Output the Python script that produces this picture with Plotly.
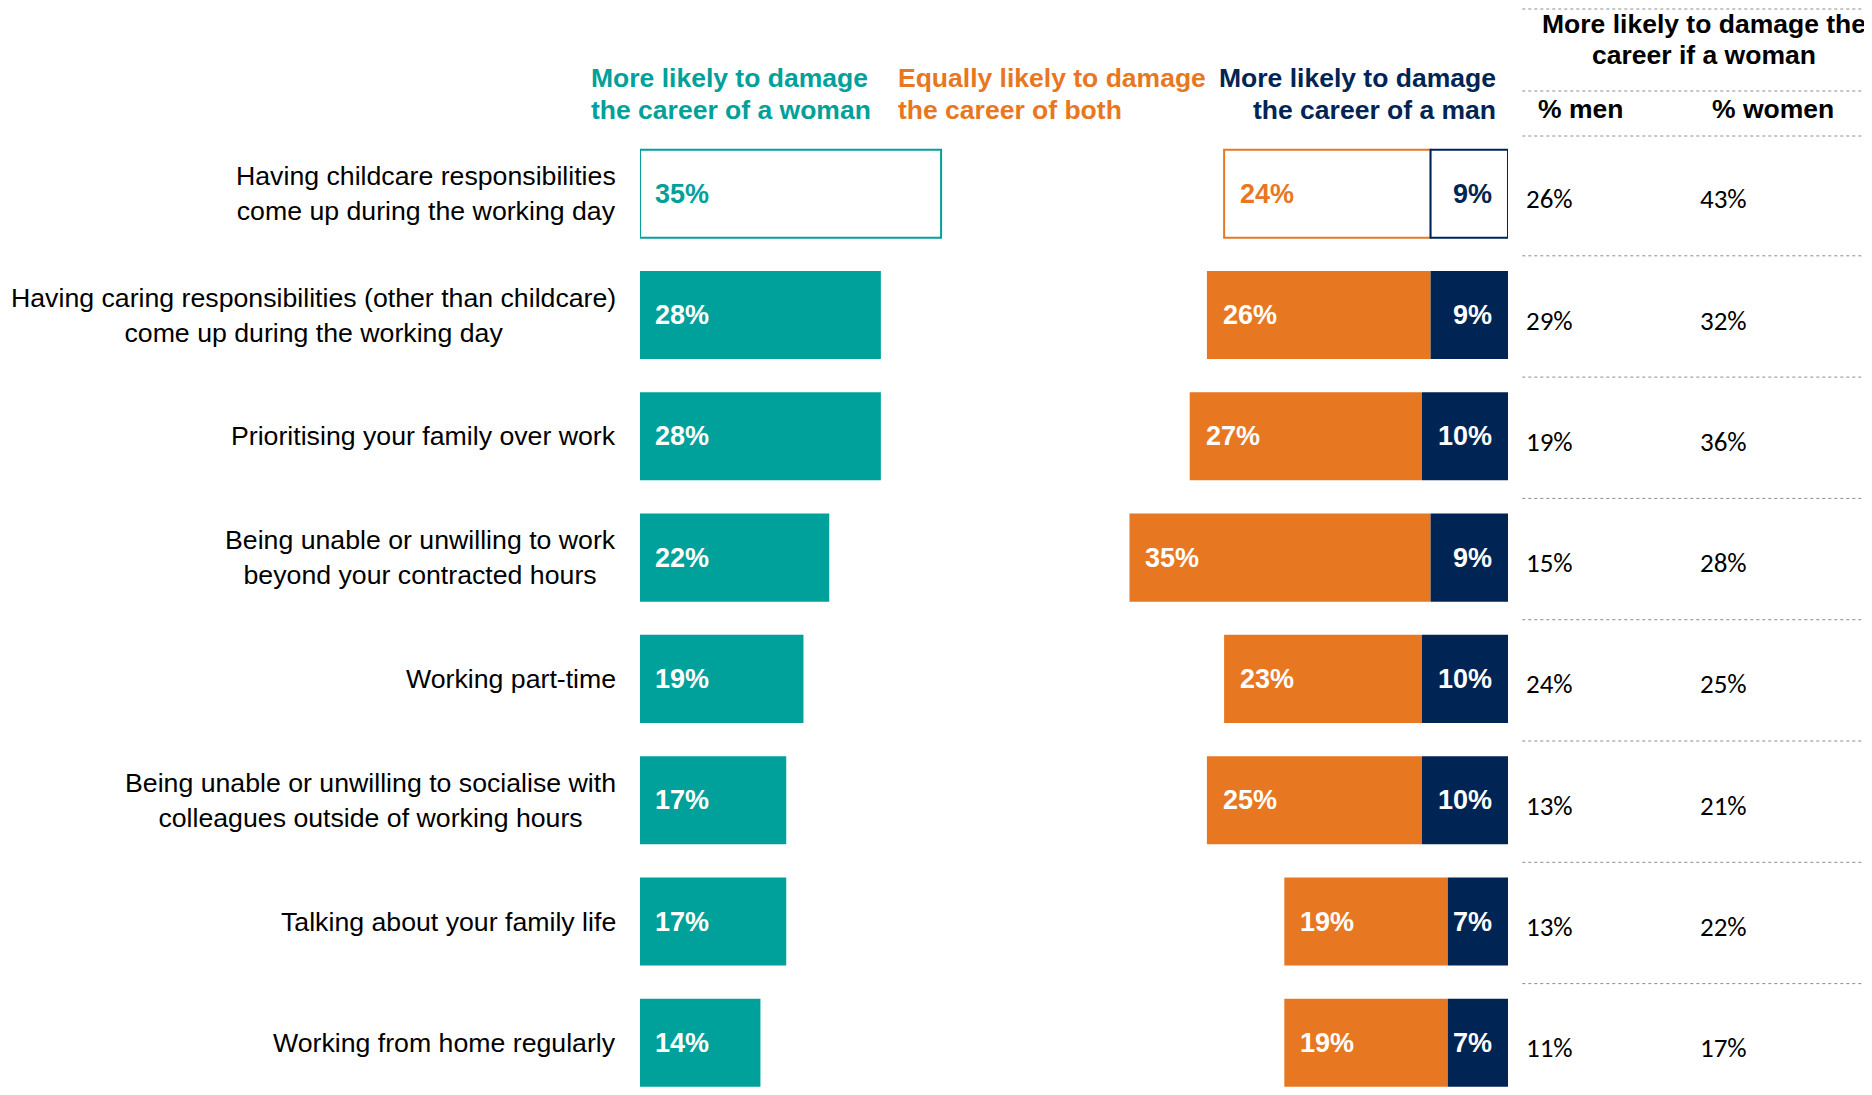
import plotly.graph_objects as go

# ---------------- data ----------------
rows = [
    "Having childcare responsibilities<br>come up during the working day",
    "Having caring responsibilities (other than childcare)<br>come up during the working day",
    "Prioritising your family over work",
    "Being unable or unwilling to work<br>beyond your contracted hours",
    "Working part-time",
    "Being unable or unwilling to socialise with<br>colleagues outside of working hours",
    "Talking about your family life",
    "Working from home regularly",
]
woman = [35, 28, 28, 22, 19, 17, 17, 14]   # More likely to damage the career of a woman
both = [24, 26, 27, 35, 23, 25, 19, 19]    # Equally likely to damage the career of both
man = [9, 9, 10, 9, 10, 10, 7, 7]          # More likely to damage the career of a man
pct_men = [26, 29, 19, 15, 24, 13, 13, 11]
pct_women = [43, 32, 36, 28, 25, 21, 22, 17]

header_woman = "More likely to damage<br>the career of a woman"
header_both = "Equally likely to damage<br>the career of both"
header_man = "More likely to damage<br>the career of a man"
table_title = "More likely to damage the<br>career if a woman"
col_men = "% men"
col_women = "% women"

# ---------------- style ----------------
TEAL = "#00A19A"
ORANGE = "#E87722"
NAVY = "#002554"
FONT = "Liberation Sans, Arial, sans-serif"
NUMFONT = "Carlito, Calibri, Lato, sans-serif"

OFF = 8                     # page body margin
W, H = 1872 - OFF, 1095 - OFF
L = 640 - OFF
RIGHT_PX = 1507.7 - OFF
R_END = 100.9               # right edge of stacked bars (axis units)
BAR_W = 0.726
plot_w = RIGHT_PX - L
R_M = W - RIGHT_PX
row0_px = 193.7 - OFF
unit_px = 121.3


def px_x(px):
    return (px - OFF - L) / plot_w


def px_y(py):
    return 1 - (py - OFF) / H


n = len(rows)
first = [i == 0 for i in range(n)]

base_man = [R_END - m for m in man]
base_both = [R_END - m - b for m, b in zip(man, both)]

fig = go.Figure()


def add_bar(vals, base, color):
    fig.add_trace(go.Bar(
        orientation="h", y=rows, x=vals, base=base, width=BAR_W,
        marker=dict(
            color=["white" if f else color for f in first],
            line=dict(color=color, width=[2 if f else 0 for f in first]),
        ),
        hoverinfo="skip", showlegend=False,
    ))


add_bar(woman, [0] * n, TEAL)
add_bar(both, base_both, ORANGE)
add_bar(man, base_man, NAVY)

ann = []


def multiline(text, spacing, **kw):
    """Place each line of text as its own annotation, centred around the anchor."""
    lines = text.split("<br>")
    k = len(lines)
    bold = kw.pop("bold", False)
    base_shift = kw.pop("yshift", 0)
    for j, ln in enumerate(lines):
        off = ((k - 1) / 2 - j) * spacing
        ann.append(dict(text=f"<b>{ln}</b>" if bold else ln, showarrow=False,
                        yanchor="middle", yshift=base_shift + off, **kw))


for i, lab in enumerate(rows):
    # row label (lines centred on each other, block right-aligned)
    ann.append(dict(x=0, xref="paper", y=lab, yref="y", text=lab, showarrow=False,
                    xanchor="right", yanchor="middle", align="center", xshift=-22,
                    font=dict(family=FONT, size=26.7, color="#000000")))
    # bar labels
    ann.append(dict(x=0, xref="x", y=lab, yref="y", text=f"<b>{woman[i]}%</b>", showarrow=False,
                    xanchor="left", yanchor="middle", xshift=13,
                    font=dict(family=FONT, size=27, color=TEAL if first[i] else "white")))
    ann.append(dict(x=base_both[i], xref="x", y=lab, yref="y", text=f"<b>{both[i]}%</b>", showarrow=False,
                    xanchor="left", yanchor="middle", xshift=14,
                    font=dict(family=FONT, size=27, color=ORANGE if first[i] else "white")))
    ann.append(dict(x=R_END, xref="x", y=lab, yref="y", text=f"<b>{man[i]}%</b>", showarrow=False,
                    xanchor="right", yanchor="middle", xshift=-14,
                    font=dict(family=FONT, size=27, color=NAVY if first[i] else "white")))
    # table values
    ann.append(dict(x=px_x(1524), xref="paper", y=lab, yref="y", text=f"{pct_men[i]}%", showarrow=False,
                    xanchor="left", yanchor="middle", yshift=-5,
                    font=dict(family=NUMFONT, size=27, color="#000000")))
    ann.append(dict(x=px_x(1698), xref="paper", y=lab, yref="y", text=f"{pct_women[i]}%", showarrow=False,
                    xanchor="left", yanchor="middle", yshift=-5,
                    font=dict(family=NUMFONT, size=27, color="#000000")))

# column headers (line centres at ~77.6 px and ~110 px)
multiline(header_woman, 32.4, x=px_x(588.6), xref="paper", y=px_y(94), yref="paper",
          xanchor="left", bold=True, font=dict(family=FONT, size=26.5, color=TEAL))
multiline(header_both, 32.4, x=px_x(895.6), xref="paper", y=px_y(94), yref="paper",
          xanchor="left", bold=True, font=dict(family=FONT, size=26.5, color=ORANGE))
multiline(header_man, 32.4, x=px_x(1498), xref="paper", y=px_y(94), yref="paper",
          xanchor="right", bold=True, font=dict(family=FONT, size=26.5, color=NAVY))
# table headers
multiline(table_title, 31, x=px_x(1704), xref="paper", y=px_y(39.5), yref="paper",
          xanchor="center", bold=True, font=dict(family=FONT, size=26.5, color="#000000"))
multiline(col_men, 31, x=px_x(1580), xref="paper", y=px_y(109), yref="paper",
          xanchor="center", bold=True, font=dict(family=FONT, size=26.5, color="#000000"))
multiline(col_women, 31, x=px_x(1773), xref="paper", y=px_y(109), yref="paper",
          xanchor="center", bold=True, font=dict(family=FONT, size=26.5, color="#000000"))

# dotted separator lines
shapes = []
line_style = dict(color="#8C8C8C", width=1, dash="dot")
for py in (9, 91, 136):
    shapes.append(dict(type="line", xref="paper", yref="paper", x0=px_x(1522), x1=px_x(1872),
                       y0=px_y(py), y1=px_y(py), line=line_style))
for i in range(n - 1):
    shapes.append(dict(type="line", xref="paper", yref="y", x0=px_x(1522), x1=px_x(1872),
                       y0=i + 0.5 + 0.012, y1=i + 0.5 + 0.012, line=line_style))

fig.update_layout(
    width=W, height=H,
    margin=dict(l=L, r=R_M, t=0, b=0, pad=0),
    paper_bgcolor="white", plot_bgcolor="white",
    barmode="overlay",
    xaxis=dict(range=[0, R_END], visible=False, fixedrange=True),
    yaxis=dict(type="category", categoryorder="array", categoryarray=rows,
               range=[(H - row0_px) / unit_px, -row0_px / unit_px],
               visible=False, fixedrange=True),
    annotations=ann, shapes=shapes,
    showlegend=False,
)

fig.write_html("out.html")
